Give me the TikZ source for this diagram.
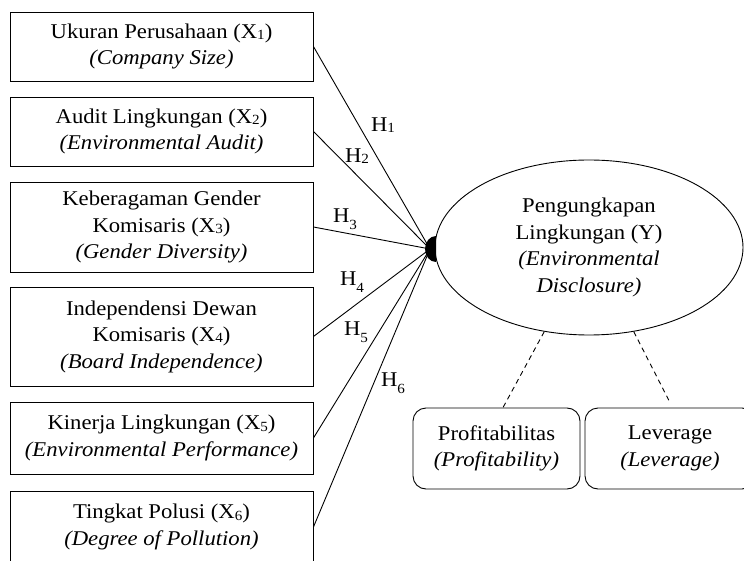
\documentclass[tikz,border=0pt]{standalone}
\usepackage{fontspec}
\setmainfont{Liberation Serif}[FakeStretch=1.08]
\usetikzlibrary{shapes.geometric,calc}
\newcommand{\lsub}[1]{\raisebox{-0.15ex}{\fontsize{14}{14}\selectfont #1}}
\newcommand{\dsub}[1]{\raisebox{-0.7ex}{\fontsize{14}{14}\selectfont #1}}
\begin{document}
\begin{tikzpicture}[x=1pt,y=-1pt,line width=0.9pt,
  txt/.style={font=\fontsize{21}{26.5}\selectfont},
  box/.style={txt,draw,rectangle,align=center,minimum width=303pt,inner sep=0pt},
  rbox/.style={txt,draw,rectangle,rounded corners=13pt,align=center,minimum width=167pt,minimum height=81pt,inner sep=0pt},
  hlab/.style={txt,inner sep=0pt},
  path/.style={draw,line width=0.9pt},
  mod/.style={draw,dash pattern=on 5pt off 4pt,line width=0.9pt}]
\clip (0,0) rectangle (744,561);
\node[box,minimum height=69pt] (x1) at (161.5,46.5) {Ukuran Perusahaan (X\lsub{1})\\\textit{(Company Size)}};
\node[box,minimum height=69pt] (x2) at (161.5,131.5) {Audit Lingkungan (X\lsub{2})\\\textit{(Environmental Audit)}};
\node[box,minimum height=90pt] (x3) at (161.5,227) {Keberagaman Gender\\Komisaris (X\lsub{3})\\\textit{(Gender Diversity)}};
\node[box,minimum height=99pt] (x4) at (161.5,336.5) {Independensi Dewan\\Komisaris (X\lsub{4})\\\textit{(Board Independence)}};
\node[box,minimum height=72pt] (x5) at (161.5,438) {Kinerja Lingkungan (X\lsub{5})\\\textit{(Environmental Performance)}};
\node[box,minimum height=72pt] (x6) at (161.5,527) {Tingkat Polusi (X\lsub{6})\\\textit{(Degree of Pollution)}};
\node[txt,draw,ellipse,align=center,minimum width=308pt,minimum height=175pt,inner sep=0pt] (y) at (589,247.5) {Pengungkapan\\Lingkungan (Y)\\\textit{(Environmental}\\\textit{Disclosure)}};
\node[rbox] (prof) at (496.5,448.5) {Profitabilitas\\\textit{(Profitability)}};
\node[rbox,minimum width=170pt] (lev) at (670,448.5) {Leverage\\\textit{(Leverage)}};
\coordinate (hub) at (430,249);
\foreach \i in {1,...,6} \draw[path] (x\i.east) -- (hub);
\fill (436,236) arc[start angle=90,end angle=270,x radius=11pt,y radius=13pt] -- cycle;
\node[hlab] (h1) at (383,125) {H\lsub{1}};
\node[hlab] (h2) at (357,156) {H\lsub{2}};
\node[hlab] (h3) at (345,219) {H\dsub{3}};
\node[hlab] (h4) at (352,282) {H\dsub{4}};
\node[hlab] (h5) at (356,332) {H\dsub{5}};
\node[hlab] (h6) at (393,383) {H\dsub{6}};
\draw[mod] (y.242) -- ([xshift=6.5pt]prof.north);
\draw[mod] (y.298) -- ([yshift=5pt]lev.north);
\end{tikzpicture}
\end{document}
